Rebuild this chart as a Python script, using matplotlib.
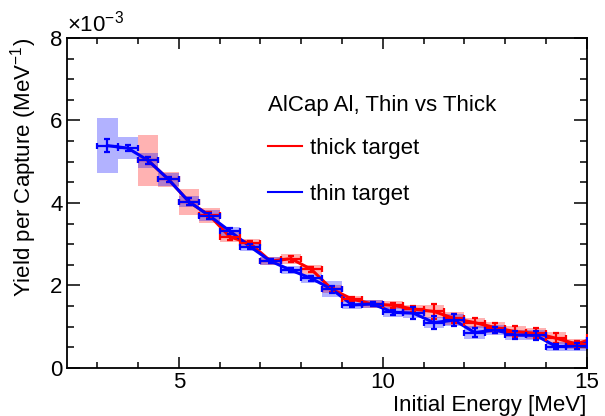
import numpy as np
import matplotlib.pyplot as plt

plt.rcParams['font.family'] = ['Liberation Sans', 'DejaVu Sans']
plt.rcParams['mathtext.fontset'] = 'custom'
plt.rcParams['mathtext.rm'] = 'Liberation Sans'
plt.rcParams['mathtext.it'] = 'Liberation Sans:italic'

# yield per capture in units of 1e-3 / MeV, 0.5 MeV bins (last point is the 15.25 bin, off-axis)
thin_e = [3.25, 3.75, 4.25, 4.75, 5.25, 5.75, 6.25, 6.75, 7.25, 7.75, 8.25, 8.75,
          9.25, 9.75, 10.25, 10.75, 11.25, 11.75, 12.25, 12.75, 13.25, 13.75, 14.25, 14.75, 15.25]
thin_y = [5.39, 5.33, 5.03, 4.57, 4.03, 3.69, 3.32, 2.94, 2.59, 2.37, 2.17, 1.91,
          1.53, 1.55, 1.35, 1.33, 1.10, 1.16, 0.86, 0.92, 0.80, 0.79, 0.52, 0.53, 0.68]
thin_stat = [0.16, 0.08, 0.08, 0.07, 0.08, 0.07, 0.07, 0.06, 0.05, 0.05, 0.05, 0.08,
             0.05, 0.05, 0.06, 0.14, 0.15, 0.15, 0.12, 0.08, 0.10, 0.10, 0.07, 0.07, 0.07]
thin_sys = [0.66, 0.27, 0.17, 0.16, 0.13, 0.13, 0.11, 0.10, 0.09, 0.10, 0.10, 0.19,
            0.10, 0.09, 0.12, 0.12, 0.13, 0.14, 0.16, 0.12, 0.12, 0.12, 0.12, 0.12, 0.12]

thick_e = [4.25, 4.75, 5.25, 5.75, 6.25, 6.75, 7.25, 7.75, 8.25, 8.75, 9.25, 9.75,
           10.25, 10.75, 11.25, 11.75, 12.25, 12.75, 13.25, 13.75, 14.25, 14.75, 15.25]
thick_y = [5.03, 4.57, 4.03, 3.70, 3.18, 3.02, 2.59, 2.65, 2.39, 1.91, 1.67, 1.55,
           1.52, 1.43, 1.37, 1.20, 1.10, 0.98, 0.88, 0.84, 0.72, 0.58, 0.75]
thick_stat = [0.08, 0.07, 0.08, 0.07, 0.07, 0.06, 0.05, 0.07, 0.07, 0.06, 0.05, 0.05,
              0.06, 0.08, 0.19, 0.12, 0.12, 0.12, 0.13, 0.12, 0.12, 0.08, 0.08]
thick_sys = [0.62, 0.18, 0.31, 0.18, 0.13, 0.11, 0.09, 0.12, 0.11, 0.10, 0.08, 0.09,
             0.10, 0.10, 0.16, 0.15, 0.12, 0.14, 0.14, 0.14, 0.15, 0.13, 0.13]

BIN_W = 0.5
SCALE = 1e-3
FS = 16

fig = plt.figure(figsize=(6.05, 4.16), dpi=100)
ax = fig.add_axes([0.110, 0.1154, 0.860, 0.7933])

def draw_set(e, y, stat, sys, color, label):
  e = np.array(e); y = np.array(y) * SCALE
  stat = np.array(stat) * SCALE; sys = np.array(sys) * SCALE
  # systematic band as boxes, stat errors as bars
  ax.bar(e, 2 * sys, bottom=y - sys, width=BIN_W, color=color, alpha=0.3,
         linewidth=0, zorder=2)
  ax.plot(e, y, color=color, lw=2.2, zorder=3, label=label)
  ax.errorbar(e, y, xerr=BIN_W / 2, yerr=stat, fmt='none', ecolor=color,
              elinewidth=1.6, capsize=2.5, capthick=1.6, zorder=4)

draw_set(thick_e, thick_y, thick_stat, thick_sys, 'red', 'thick target')
draw_set(thin_e, thin_y, thin_stat, thin_sys, 'blue', 'thin target')

ax.set_xlim(2.25, 15)
ax.set_ylim(0, 8e-3)
ax.set_xticks([5, 10, 15])
ax.set_xticks(np.arange(3, 16, 1), minor=True)
ax.set_yticks(np.arange(0, 8.1e-3, 2e-3))
ax.set_yticks(np.arange(0, 8.1e-3, 0.5e-3), minor=True)
ax.set_yticklabels(['0', '2', '4', '6', '8'])

ax.tick_params(which='both', direction='in', top=True, right=True,
               labelsize=FS, width=1.1)
ax.tick_params(axis='x', which='major', length=8, pad=3)
ax.tick_params(axis='x', which='minor', length=4)
ax.tick_params(axis='y', which='major', length=9.5, pad=3)
ax.tick_params(axis='y', which='minor', length=5)
for s in ax.spines.values():
  s.set_linewidth(1.3)

ax.set_xlabel('Initial Energy [MeV]', fontsize=FS, ha='right')
ax.xaxis.set_label_coords(1.0, -0.083)
ax.set_ylabel('Yield per Capture (MeV$^{-1}$)', fontsize=FS, ha='right')
ax.yaxis.set_label_coords(-0.052, 1.0)
ax.text(0.0, 1.003, r'$\times$10$^{-3}$', transform=ax.transAxes,
        fontsize=FS, ha='left', va='bottom')

leg = ax.legend(loc='upper left', bbox_to_anchor=(0.37, 0.855), frameon=False,
                title='AlCap Al, Thin vs Thick', title_fontsize=FS,
                fontsize=FS, alignment='left', handlelength=1.55,
                handletextpad=0.32, labelspacing=1.12, borderaxespad=0)
leg._legend_box.sep = 16
for h in leg.legend_handles:
  h.set_linewidth(1.5)

fig.savefig('out.png', dpi=100)
